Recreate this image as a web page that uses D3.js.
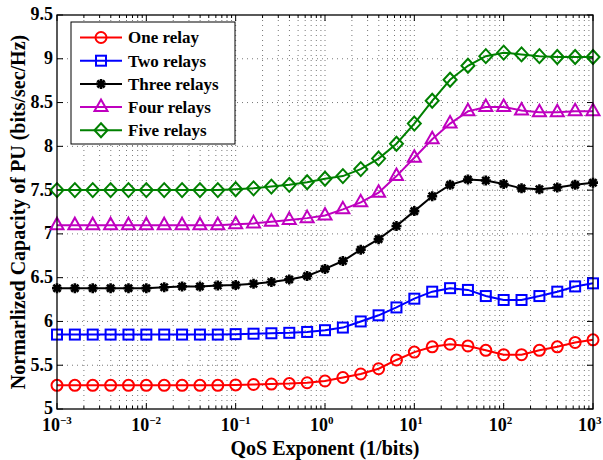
<!DOCTYPE html>
<html>
<head>
<meta charset="utf-8">
<script src="https://cdn.jsdelivr.net/npm/d3@7"></script>
<style>
body { margin: 0; background: #fff; }
text { font-family: "Liberation Serif", "Times New Roman", serif; font-weight: bold; }
</style>
</head>
<body>
<div id="chart"></div>
<script>
// QoS exponent, as log10 values (x axis)
const qosExp = [-3, -2.8, -2.6, -2.4, -2.2, -2, -1.8, -1.6, -1.4, -1.2, -1, -0.8, -0.6, -0.4, -0.2,
    0, 0.2, 0.4, 0.6, 0.8, 1, 1.2, 1.4, 1.6, 1.8, 2, 2.2, 2.4, 2.6, 2.8, 3];

const oneRelay = [5.27, 5.27, 5.27, 5.27, 5.27, 5.27, 5.27, 5.27, 5.27, 5.27, 5.275, 5.28, 5.285, 5.29, 5.30,
    5.32, 5.36, 5.40, 5.46, 5.56, 5.65, 5.71, 5.74, 5.72, 5.67, 5.62, 5.62, 5.67, 5.71, 5.76, 5.79];
const twoRelays = [5.85, 5.85, 5.85, 5.85, 5.85, 5.85, 5.85, 5.85, 5.85, 5.85, 5.855, 5.86, 5.865, 5.87, 5.88,
    5.90, 5.93, 6.00, 6.07, 6.16, 6.26, 6.34, 6.38, 6.36, 6.29, 6.245, 6.245, 6.29, 6.34, 6.40, 6.435];
const threeRelays = [6.38, 6.38, 6.38, 6.38, 6.38, 6.38, 6.39, 6.40, 6.40, 6.41, 6.415, 6.43, 6.45, 6.48, 6.52,
    6.60, 6.69, 6.82, 6.94, 7.09, 7.26, 7.43, 7.56, 7.62, 7.61, 7.57, 7.52, 7.51, 7.53, 7.56, 7.585];
const fourRelays = [7.10, 7.10, 7.10, 7.10, 7.10, 7.10, 7.10, 7.10, 7.10, 7.10, 7.11, 7.12, 7.14, 7.16, 7.18,
    7.21, 7.28, 7.36, 7.47, 7.66, 7.87, 8.08, 8.26, 8.40, 8.45, 8.45, 8.41, 8.39, 8.39, 8.40, 8.40];
const fiveRelays = [7.50, 7.50, 7.50, 7.50, 7.50, 7.50, 7.50, 7.50, 7.50, 7.50, 7.51, 7.52, 7.54, 7.56, 7.59,
    7.63, 7.66, 7.74, 7.86, 8.03, 8.26, 8.52, 8.76, 8.92, 9.03, 9.07, 9.05, 9.03, 9.02, 9.02, 9.02];

const seriesNames = ["One relay", "Two relays", "Three relays", "Four relays", "Five relays"];
const seriesColors = ["#ff0000", "#0000ff", "#000000", "#bf00bf", "#008000"];
const seriesMarkers = ["circle", "square", "star", "triangle", "diamond"];
const seriesValues = [oneRelay, twoRelays, threeRelays, fourRelays, fiveRelays];

const xTickExp = [-3, -2, -1, 0, 1, 2, 3];
const yTicks = [5, 5.5, 6, 6.5, 7, 7.5, 8, 8.5, 9, 9.5];

const W = 603, H = 460;
const margin = {top: 15, right: 10, bottom: 51, left: 57};
const width = W - margin.left - margin.right;
const height = H - margin.top - margin.bottom;

const svg = d3.select("#chart").append("svg")
    .attr("width", W).attr("height", H);
const g = svg.append("g")
    .attr("transform", "translate(" + margin.left + "," + margin.top + ")");

const x = d3.scaleLog().domain([1e-3, 1e3]).range([0, width]);
const y = d3.scaleLinear().domain([5, 9.5]).range([height, 0]);

// grid (dotted, major + minor on x, major on y)
const allX = x.ticks();
const isMajor = v => Math.abs(Math.log10(v) - Math.round(Math.log10(v))) < 1e-9;
g.append("g").selectAll("line")
    .data(allX.filter(v => v > 1e-3 && v < 1e3))
    .join("line")
    .attr("x1", d => x(d)).attr("x2", d => x(d))
    .attr("y1", 0).attr("y2", height)
    .attr("stroke", "#777").attr("stroke-width", 1)
    .attr("stroke-dasharray", "1,4");
g.append("g").selectAll("line")
    .data(yTicks.slice(1, -1))
    .join("line")
    .attr("x1", 0).attr("x2", width)
    .attr("y1", d => y(d)).attr("y2", d => y(d))
    .attr("stroke", "#777").attr("stroke-width", 1)
    .attr("stroke-dasharray", "1,4");

// ticks (inside, on all four sides)
const tickG = g.append("g").attr("stroke", "#000").attr("stroke-width", 1);
allX.forEach(v => {
    const len = isMajor(v) ? 6 : 3;
    tickG.append("line").attr("x1", x(v)).attr("x2", x(v)).attr("y1", height).attr("y2", height - len);
    tickG.append("line").attr("x1", x(v)).attr("x2", x(v)).attr("y1", 0).attr("y2", len);
});
yTicks.forEach(v => {
    tickG.append("line").attr("x1", 0).attr("x2", 6).attr("y1", y(v)).attr("y2", y(v));
    tickG.append("line").attr("x1", width).attr("x2", width - 6).attr("y1", y(v)).attr("y2", y(v));
});

// tick labels
g.append("g").selectAll("text")
    .data(yTicks)
    .join("text")
    .attr("x", -4).attr("y", d => y(d))
    .attr("dy", "0.3em")
    .attr("text-anchor", "end")
    .attr("font-size", 18)
    .text(d => d);

const xl = g.append("g").selectAll("text")
    .data(xTickExp)
    .join("text")
    .attr("x", d => x(Math.pow(10, d)) - 15)
    .attr("y", height + 22)
    .attr("font-size", 18);
xl.append("tspan").text("10");
xl.append("tspan").attr("dy", -7).attr("font-size", 11).text(d => d < 0 ? "\u2212" + (-d) : d);

// axis titles
svg.append("text")
    .attr("x", margin.left + width / 2).attr("y", 455)
    .attr("text-anchor", "middle").attr("font-size", 20)
    .text("QoS Exponent (1/bits)");
svg.append("text")
    .attr("transform", "translate(25," + (margin.top + height / 2) + ") rotate(-90)")
    .attr("text-anchor", "middle").attr("font-size", 20)
    .text("Normarlized Capacity of PU (bits/sec/Hz)");

// markers
function drawMarker(sel, type, color) {
    if (type === "circle") {
        sel.append("circle").attr("r", 5.5);
    } else if (type === "square") {
        sel.append("rect").attr("x", -5).attr("y", -5).attr("width", 10).attr("height", 10);
    } else if (type === "triangle") {
        sel.append("path").attr("d", "M0,-7.5L6.5,4L-6.5,4Z");
    } else if (type === "diamond") {
        sel.append("path").attr("d", "M0,-7L6.5,0L0,7L-6.5,0Z");
    } else if (type === "star") {
        sel.append("path").attr("d", "M-5,0L5,0M0,-5L0,5M-3.6,-3.6L3.6,3.6M-3.6,3.6L3.6,-3.6")
            .attr("stroke-width", 2.6);
    }
    sel.selectAll("*").attr("fill", "none").attr("stroke", color)
        .filter(function() { return !this.getAttribute("stroke-width"); })
        .attr("stroke-width", 2);
}

const line = d3.line()
    .x((d, i) => x(Math.pow(10, qosExp[i])))
    .y(d => y(d));

seriesValues.forEach((vals, k) => {
    const sg = g.append("g");
    sg.append("path").datum(vals)
        .attr("d", line)
        .attr("fill", "none")
        .attr("stroke", seriesColors[k])
        .attr("stroke-width", 2);
    sg.selectAll("g.mk")
        .data(vals)
        .join("g")
        .attr("class", "mk")
        .attr("transform", (d, i) => "translate(" + x(Math.pow(10, qosExp[i])) + "," + y(d) + ")")
        .each(function() { drawMarker(d3.select(this), seriesMarkers[k], seriesColors[k]); });
});

// frame
g.append("rect").attr("width", width).attr("height", height)
    .attr("fill", "none").attr("stroke", "#000").attr("stroke-width", 1.3);

// legend
const lg = svg.append("g").attr("transform", "translate(71,22)");
lg.append("rect").attr("width", 164).attr("height", 122)
    .attr("fill", "#fff").attr("stroke", "#000").attr("stroke-width", 1);
seriesNames.forEach((name, k) => {
    const ly = 15.5 + k * 23.2;
    lg.append("line").attr("x1", 9).attr("x2", 51).attr("y1", ly).attr("y2", ly)
        .attr("stroke", seriesColors[k]).attr("stroke-width", 2);
    const m = lg.append("g").attr("transform", "translate(30," + ly + ")");
    drawMarker(m, seriesMarkers[k], seriesColors[k]);
    lg.append("text").attr("x", 57).attr("y", ly).attr("dy", "0.35em")
        .attr("font-size", 17).text(name);
});
</script>
</body>
</html>
